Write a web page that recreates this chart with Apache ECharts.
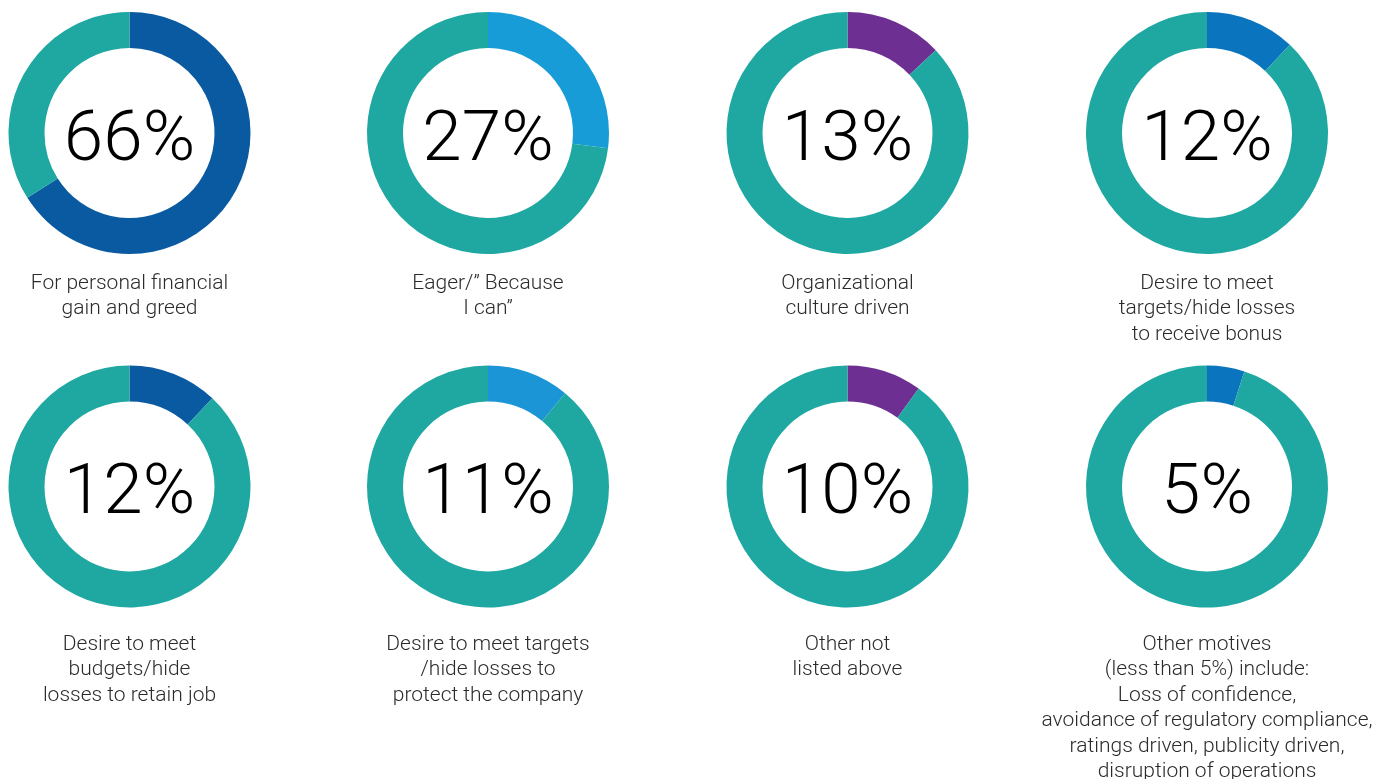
<!DOCTYPE html>
<html>
<head>
<meta charset="utf-8">
<script src="https://cdn.jsdelivr.net/npm/echarts@6/dist/echarts.min.js"></script>
<style>
html,body{margin:0;padding:0;background:#fff;}
#chart{width:1378px;height:779px;}
</style>
</head>
<body>
<div id="chart"></div>
<script>
const percents = [66, 27, 13, 12, 12, 11, 10, 5];
const captions = [
  "For personal financial\ngain and greed",
  "Eager/\u201D Because\nI can\u201D",
  "Organizational\nculture driven",
  "Desire to meet\ntargets/hide losses\nto receive bonus",
  "Desire to meet\nbudgets/hide\nlosses to retain job",
  "Desire to meet targets\n/hide losses to\nprotect the company",
  "Other not\nlisted above",
  "Other motives\n(less than 5%) include:\nLoss of confidence,\navoidance of regulatory compliance,\nratings driven, publicity driven,\ndisruption of operations"
];
const accentColors = ["#0a5aa1", "#179cd8", "#6d2f91", "#0b74bf", "#0a5aa1", "#1c95d6", "#6d2f91", "#0b74bf"];
const restColor = "#1fa8a1";

const colX = [129.5, 488, 847.5, 1207];
const rowY = [133, 486.5];
const captionTop = [271, 632];

const chart = echarts.init(document.getElementById('chart'));
const series = [];
const titles = [];
percents.forEach((p, i) => {
  const cx = colX[i % 4], cy = rowY[Math.floor(i / 4)];
  series.push({
    type: 'pie',
    center: [cx, cy],
    radius: [85, 121],
    startAngle: 90,
    clockwise: true,
    silent: true,
    avoidLabelOverlap: false,
    labelLine: {show: false},
    labelLayout: {dy: 9},
    itemStyle: {borderWidth: 0},
    data: [
      {value: p, name: 'a' + i, itemStyle: {color: accentColors[i]},
       label: {show: true, position: 'center', formatter: p + '%',
               fontFamily: 'Roboto', fontWeight: 300, fontSize: 71, color: '#000'}},
      {value: 100 - p, name: 'b' + i, itemStyle: {color: restColor}, label: {show: false}}
    ]
  });
  titles.push({
    text: captions[i],
    left: cx,
    top: captionTop[Math.floor(i / 4)],
    textAlign: 'center',
    padding: 0,
    textStyle: {fontFamily: 'Roboto', fontWeight: 300, fontSize: 21, color: '#2b2b2b', lineHeight: 25.4}
  });
});
chart.setOption({animation: false, title: titles, series: series});
</script>
</body>
</html>
